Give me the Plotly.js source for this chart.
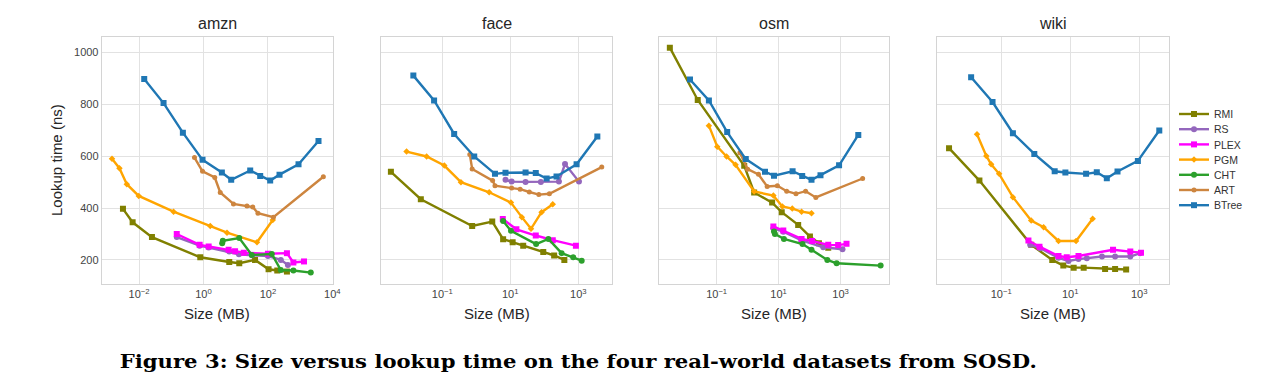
<!DOCTYPE html>
<html>
<head>
<meta charset="utf-8">
<script src="https://cdn.plot.ly/plotly-3.0.1.min.js"></script>
<style>
  html, body { margin: 0; padding: 0; background: #fff; }
  #chart { width: 1270px; height: 391px; }
</style>
</head>
<body>
<div id="chart"></div>
<script>
// ---------------- DATA (size as log10 of MB, lookup time in ns) ----------------
const datasets = ['amzn', 'face', 'osm', 'wiki'];
const methods = ['RMI', 'RS', 'PLEX', 'PGM', 'CHT', 'ART', 'BTree'];
const yTickVals = [200, 400, 600, 800, 1000];
const yTickText = ['200', '400', '600', '800', '1000'];
const amznTickVals = [0.01, 1, 100, 10000];
const amznTickText = ['10<sup>−2</sup>', '10<sup>0</sup>', '10<sup>2</sup>', '10<sup>4</sup>'];
const otherTickVals = [0.1, 10, 1000];
const otherTickText = ['10<sup>−1</sup>', '10<sup>1</sup>', '10<sup>3</sup>'];
const captionText = 'Figure 3: Size versus lookup time on the four real-world datasets from SOSD.';

// amzn
const amzn_RMI_logMB   = [-2.50, -2.20, -1.60, -0.10, 0.80, 1.11, 1.60, 2.02, 2.29, 2.59];
const amzn_RMI_ns      = [397, 345, 288, 210, 192, 187, 200, 164, 159, 155];
const amzn_RS_logMB    = [-0.83, -0.12, 0.16, 0.80, 1.10, 1.50, 2.00, 2.40, 2.62];
const amzn_RS_ns       = [288, 255, 248, 232, 222, 218, 215, 200, 180];
const amzn_PLEX_logMB  = [-0.83, -0.12, 0.16, 0.78, 0.98, 1.25, 2.00, 2.59, 2.79, 3.12];
const amzn_PLEX_ns     = [300, 258, 252, 239, 233, 228, 224, 226, 190, 194];
const amzn_PGM_logMB   = [-2.84, -2.61, -2.38, -2.01, -0.93, 0.21, 0.73, 1.66, 2.15];
const amzn_PGM_ns      = [590, 554, 492, 447, 386, 331, 305, 268, 354];
const amzn_CHT_logMB   = [0.58, 0.60, 1.11, 1.50, 2.12, 2.40, 2.79, 3.33];
const amzn_CHT_ns      = [264, 274, 284, 219, 223, 161, 159, 151];
const amzn_ART_logMB   = [-0.28, -0.03, 0.35, 0.52, 0.93, 1.35, 1.53, 1.69, 2.17, 3.72];
const amzn_ART_ns      = [595, 542, 518, 460, 416, 408, 404, 380, 365, 521];
const amzn_BTree_logMB = [-1.84, -1.24, -0.64, -0.03, 0.57, 0.86, 1.45, 1.76, 2.07, 2.36, 2.95, 3.57];
const amzn_BTree_ns    = [898, 805, 691, 586, 537, 509, 545, 524, 506, 529, 569, 659];

// face
const face_RMI_logMB   = [-2.51, -1.63, -0.12, 0.47, 0.79, 1.07, 1.38, 1.97, 2.29, 2.59];
const face_RMI_ns      = [540, 434, 331, 348, 280, 268, 255, 230, 217, 200];
const face_RS_logMB    = [0.86, 1.04, 1.45, 1.90, 2.43, 2.61, 3.02];
const face_RS_ns       = [509, 502, 501, 501, 502, 570, 502];
const face_PLEX_logMB  = [0.78, 1.18, 1.75, 2.25, 2.93];
const face_PLEX_ns     = [358, 318, 294, 276, 255];
const face_PGM_logMB   = [-2.05, -1.46, -0.94, -0.45, 0.38, 1.02, 1.34, 1.61, 1.92, 2.25];
const face_PGM_ns      = [618, 599, 564, 500, 461, 421, 365, 320, 384, 415];
const face_CHT_logMB   = [0.79, 1.02, 1.76, 2.12, 2.51, 2.85, 3.10];
const face_CHT_ns      = [350, 312, 261, 281, 226, 210, 197];
const face_ART_logMB   = [-0.19, -0.12, 0.48, 0.55, 1.04, 1.29, 1.56, 1.84, 2.15, 3.69];
const face_ART_ns      = [607, 551, 506, 486, 477, 473, 462, 452, 455, 558];
const face_BTree_logMB = [-1.85, -1.24, -0.65, -0.06, 0.55, 0.86, 1.45, 1.75, 2.07, 2.36, 2.95, 3.56];
const face_BTree_ns    = [911, 815, 686, 599, 532, 536, 537, 535, 514, 522, 569, 676];

// osm
const osm_RMI_logMB   = [-2.51, -1.61, -0.11, 0.21, 0.79, 1.10, 1.63, 2.01, 2.30, 2.60];
const osm_RMI_ns      = [1019, 817, 563, 460, 421, 384, 335, 290, 264, 247];
const osm_RS_logMB    = [0.83, 1.15, 1.74, 2.44, 3.06];
const osm_RS_ns       = [322, 309, 275, 249, 241];
const osm_PLEX_logMB  = [0.83, 1.15, 1.74, 2.08, 2.60, 2.92, 3.19];
const osm_PLEX_ns     = [329, 313, 281, 273, 258, 257, 262];
const osm_PGM_logMB   = [-1.25, -0.98, -0.68, -0.39, 0.21, 0.83, 1.12, 1.44, 1.74, 2.06];
const osm_PGM_ns      = [718, 637, 599, 567, 464, 448, 406, 398, 386, 380];
const osm_CHT_logMB   = [0.85, 0.88, 1.17, 1.77, 2.06, 2.57, 2.87, 4.29];
const osm_CHT_ns      = [310, 300, 281, 261, 239, 200, 187, 178];
const osm_ART_logMB   = [-0.25, 0.00, 0.35, 0.63, 0.96, 1.26, 1.56, 1.87, 2.20, 3.71];
const osm_ART_ns      = [613, 550, 530, 483, 486, 465, 455, 465, 441, 514];
const osm_BTree_logMB = [-1.86, -1.25, -0.66, -0.06, 0.56, 0.85, 1.45, 1.76, 2.06, 2.35, 2.95, 3.57];
const osm_BTree_ns    = [896, 815, 693, 589, 540, 525, 542, 524, 509, 527, 565, 682];

// wiki
const wiki_RMI_logMB   = [-2.51, -1.63, -0.13, 0.48, 0.80, 1.10, 1.39, 2.01, 2.30, 2.62];
const wiki_RMI_ns      = [631, 506, 258, 200, 178, 170, 170, 165, 165, 163];
const wiki_RS_logMB    = [-0.16, 0.13, 0.66, 0.95, 1.24, 1.48, 1.92, 2.30, 2.74, 3.03];
const wiki_RS_ns       = [258, 245, 208, 196, 203, 206, 213, 213, 213, 226];
const wiki_PLEX_logMB  = [-0.21, 0.11, 0.66, 0.90, 1.24, 2.24, 2.74, 3.05];
const wiki_PLEX_ns     = [275, 251, 215, 210, 215, 239, 232, 228];
const wiki_PGM_logMB   = [-1.70, -1.43, -1.29, -1.06, -0.66, -0.13, 0.23, 0.66, 1.17, 1.65];
const wiki_PGM_ns      = [685, 601, 569, 532, 442, 352, 326, 273, 273, 359];
const wiki_CHT_logMB   = [];
const wiki_CHT_ns      = [];
const wiki_ART_logMB   = [];
const wiki_ART_ns      = [];
const wiki_BTree_logMB = [-1.87, -1.25, -0.66, -0.04, 0.55, 0.86, 1.46, 1.77, 2.06, 2.37, 2.96, 3.58];
const wiki_BTree_ns    = [905, 809, 689, 609, 542, 537, 532, 538, 515, 541, 582, 699];

const seriesTable = {
  amzn: { RMI: [amzn_RMI_logMB, amzn_RMI_ns], RS: [amzn_RS_logMB, amzn_RS_ns], PLEX: [amzn_PLEX_logMB, amzn_PLEX_ns], PGM: [amzn_PGM_logMB, amzn_PGM_ns], CHT: [amzn_CHT_logMB, amzn_CHT_ns], ART: [amzn_ART_logMB, amzn_ART_ns], BTree: [amzn_BTree_logMB, amzn_BTree_ns] },
  face: { RMI: [face_RMI_logMB, face_RMI_ns], RS: [face_RS_logMB, face_RS_ns], PLEX: [face_PLEX_logMB, face_PLEX_ns], PGM: [face_PGM_logMB, face_PGM_ns], CHT: [face_CHT_logMB, face_CHT_ns], ART: [face_ART_logMB, face_ART_ns], BTree: [face_BTree_logMB, face_BTree_ns] },
  osm:  { RMI: [osm_RMI_logMB, osm_RMI_ns], RS: [osm_RS_logMB, osm_RS_ns], PLEX: [osm_PLEX_logMB, osm_PLEX_ns], PGM: [osm_PGM_logMB, osm_PGM_ns], CHT: [osm_CHT_logMB, osm_CHT_ns], ART: [osm_ART_logMB, osm_ART_ns], BTree: [osm_BTree_logMB, osm_BTree_ns] },
  wiki: { RMI: [wiki_RMI_logMB, wiki_RMI_ns], RS: [wiki_RS_logMB, wiki_RS_ns], PLEX: [wiki_PLEX_logMB, wiki_PLEX_ns], PGM: [wiki_PGM_logMB, wiki_PGM_ns], CHT: [wiki_CHT_logMB, wiki_CHT_ns], ART: [wiki_ART_logMB, wiki_ART_ns], BTree: [wiki_BTree_logMB, wiki_BTree_ns] }
};

// ---------------- STYLE ----------------
const styles = {
  RMI:   { color: '#808000', symbol: 'square',  size: 6 },
  RS:    { color: '#9467bd', symbol: 'circle',  size: 6 },
  PLEX:  { color: '#ff00ff', symbol: 'square',  size: 6 },
  PGM:   { color: '#ffa500', symbol: 'diamond', size: 5 },
  CHT:   { color: '#2ca02c', symbol: 'circle',  size: 6 },
  ART:   { color: '#cd853f', symbol: 'circle',  size: 5 },
  BTree: { color: '#1f77b4', symbol: 'square',  size: 6 }
};

const W = 1270, H = 391;
const px2x = p => p / W;
const py2y = p => 1 - p / H;
const panels = [
  { name: 'amzn', l: 101.7, r: 333.0, range: [-3.16, 4.02], tv: amznTickVals, tt: amznTickText },
  { name: 'face', l: 380.7, r: 612.3, range: [-2.81, 4.00], tv: otherTickVals, tt: otherTickText },
  { name: 'osm',  l: 659.3, r: 889.3, range: [-2.85, 4.57], tv: otherTickVals, tt: otherTickText },
  { name: 'wiki', l: 937.3, r: 1169.3, range: [-2.85, 3.87], tv: otherTickVals, tt: otherTickText }
];
const plotTop = 37, plotBottom = 284;
const FONT = 'Liberation Sans, Arial, sans-serif';

const traces = [];
panels.forEach((p, i) => {
  const ax = i === 0 ? '' : String(i + 1);
  methods.forEach(m => {
    const [lx, ys] = seriesTable[p.name][m];
    const st = styles[m];
    traces.push({
      type: 'scatter', mode: 'lines+markers', name: m,
      x: lx.map(v => Math.pow(10, v)), y: ys,
      xaxis: 'x' + ax, yaxis: 'y' + ax,
      line: { color: st.color, width: 2.4 },
      marker: { color: st.color, symbol: st.symbol, size: st.size },
      showlegend: i === 0, legendgroup: m, hoverinfo: 'x+y+name'
    });
  });
});

const layout = {
  width: W, height: H,
  margin: { l: 0, r: 0, t: 0, b: 0 },
  paper_bgcolor: '#ffffff', plot_bgcolor: '#ffffff',
  font: { family: FONT, size: 11, color: '#444' },
  showlegend: true,
  legend: {
    x: px2x(1174), y: py2y(104), xanchor: 'left', yanchor: 'top',
    bgcolor: 'rgba(0,0,0,0)', borderwidth: 0,
    font: { family: FONT, size: 10.5, color: '#333' },
    itemwidth: 30, tracegroupgap: 0
  },
  annotations: [],
  shapes: []
};

panels.forEach((p, i) => {
  const ax = i === 0 ? '' : String(i + 1);
  layout['xaxis' + ax] = {
    domain: [px2x(p.l), px2x(p.r)], anchor: 'y' + ax,
    type: 'log', range: p.range,
    tickmode: 'array', tickvals: p.tv, ticktext: p.tt,
    showgrid: true, gridcolor: '#e2e2e2', gridwidth: 1,
    showline: true, linecolor: '#d4d4d4', linewidth: 1, mirror: true,
    zeroline: false, ticks: '', tickfont: { family: FONT, size: 11, color: '#444' }
  };
  layout['yaxis' + ax] = {
    domain: [py2y(plotBottom), py2y(plotTop)], anchor: 'x' + ax,
    range: [107, 1060],
    tickmode: 'array', tickvals: yTickVals, ticktext: yTickText,
    showticklabels: i === 0,
    showgrid: true, gridcolor: '#e2e2e2', gridwidth: 1,
    showline: true, linecolor: '#d4d4d4', linewidth: 1, mirror: true,
    zeroline: false, ticks: '', tickfont: { family: FONT, size: 11, color: '#444' }
  };
  layout.annotations.push({
    text: p.name, xref: 'paper', yref: 'paper',
    x: px2x((p.l + p.r) / 2), y: py2y(24), xanchor: 'center', yanchor: 'middle',
    showarrow: false, font: { family: FONT, size: 16, color: '#262626' }
  });
  layout.annotations.push({
    text: 'Size (MB)', xref: 'paper', yref: 'paper',
    x: px2x((p.l + p.r) / 2), y: py2y(313), xanchor: 'center', yanchor: 'middle',
    showarrow: false, font: { family: FONT, size: 15, color: '#262626' }
  });
});

layout.annotations.push({
  text: 'Lookup time (ns)', xref: 'paper', yref: 'paper',
  x: px2x(57), y: py2y(160), xanchor: 'center', yanchor: 'middle', textangle: -90,
  showarrow: false, font: { family: FONT, size: 15, color: '#262626' }
});
layout.annotations.push({
  text: '<b>' + captionText + '</b>', xref: 'paper', yref: 'paper',
  x: px2x(578), y: py2y(361), xanchor: 'center', yanchor: 'middle',
  showarrow: false, font: { family: 'DejaVu Serif, serif', size: 18, color: '#000' }
});

Plotly.newPlot('chart', traces, layout, { displayModeBar: false, staticPlot: true }).then(() => {
  // compact legend rows to match the reference spacing
  const items = document.querySelectorAll('.legend .traces');
  items.forEach((g, i) => {
    const t = g.getAttribute('transform') || '';
    const m = /translate\(([-\d.]+)[ ,]+([-\d.]+)\)/.exec(t);
    const x0 = m ? parseFloat(m[1]) : 0;
    g.setAttribute('transform', 'translate(' + x0 + ',' + (10 + i * 15.2) + ')');
  });
  // stretch the caption to the reference's width (wide Computer Modern look)
  const ann = document.querySelectorAll('.annotation-text');
  const cap = ann[ann.length - 1];
  if (cap) {
    const bb = cap.getBBox();
    const target = 917;
    cap.setAttribute('textLength', target);
    cap.setAttribute('lengthAdjust', 'spacingAndGlyphs');
    const bb2 = cap.getBBox();
    const shift = (bb.x + bb.width / 2) - (bb2.x + bb2.width / 2);
    if (Math.abs(shift) > 0.5) {
      cap.setAttribute('x', parseFloat(cap.getAttribute('x') || 0) + shift);
    }
  }
});
</script>
</body>
</html>
